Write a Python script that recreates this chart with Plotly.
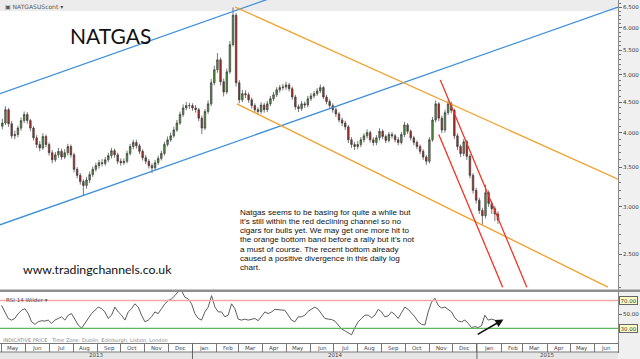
import numpy as np
import pandas as pd
import plotly.graph_objects as go

# ---------------- data ----------------
candle_start = "2013-05-02"
candle_step = "4D"
first_open = 4.10
closes = [4.15,4.37,4.14,3.95,3.97,4.07,4.19,4.29,4.19,4.07,
          3.92,3.82,3.77,3.94,3.82,3.70,3.60,3.67,3.72,3.64,
          3.70,3.79,3.67,3.47,3.39,3.31,3.26,3.33,3.40,3.47,
          3.52,3.56,3.55,3.60,3.66,3.73,3.67,3.58,3.56,3.58,
          3.69,3.79,3.85,3.80,3.72,3.63,3.58,3.52,3.49,3.56,
          3.62,3.69,3.82,3.89,3.95,4.04,4.15,4.29,4.40,4.44,
          4.44,4.40,4.37,4.23,4.07,4.34,4.47,4.85,5.10,5.30,
          4.87,4.68,5.06,5.62,6.30,4.85,4.54,4.65,4.63,4.54,
          4.44,4.37,4.34,4.45,4.37,4.47,4.56,4.63,4.72,4.76,
          4.77,4.81,4.74,4.59,4.42,4.39,4.47,4.45,4.56,4.61,
          4.65,4.70,4.76,4.59,4.51,4.44,4.37,4.30,4.20,4.15,
          4.09,3.89,3.82,3.79,3.82,3.89,3.95,4.00,3.89,3.85,
          3.92,4.02,3.94,3.88,3.97,3.95,3.89,3.85,3.97,4.12,
          4.02,3.92,3.85,3.79,3.72,3.64,3.58,3.89,4.20,4.47,
          4.23,4.04,4.32,4.47,4.36,3.95,3.79,3.69,3.86,3.65,
          3.39,3.20,3.08,2.96,2.90,3.17,3.04,2.98,2.92,2.853]
highs = [4.22,4.43,4.40,4.18,4.03,4.11,4.24,4.34,4.33,4.22,
         4.10,3.96,3.87,3.99,3.97,3.85,3.74,3.71,3.77,3.76,
         3.75,3.83,3.82,3.70,3.50,3.42,3.34,3.37,3.44,3.51,
         3.56,3.60,3.61,3.64,3.70,3.77,3.76,3.70,3.62,3.62,
         3.73,3.83,3.89,3.89,3.83,3.75,3.67,3.61,3.55,3.60,
         3.66,3.73,3.86,3.94,4.00,4.09,4.20,4.34,4.46,4.50,
         4.49,4.48,4.45,4.40,4.27,4.38,4.53,4.92,5.18,5.44,
         5.35,4.93,5.12,5.70,6.49,6.35,4.90,4.72,4.71,4.67,
         4.58,4.48,4.41,4.50,4.49,4.52,4.61,4.68,4.77,4.81,
         4.83,4.87,4.85,4.78,4.63,4.46,4.52,4.51,4.61,4.66,
         4.70,4.75,4.82,4.79,4.63,4.55,4.48,4.41,4.33,4.24,
         4.19,4.12,3.93,3.86,3.87,3.93,3.99,4.05,4.03,3.93,
         3.96,4.07,4.05,3.97,4.01,4.01,3.98,3.93,4.01,4.17,
         4.15,4.05,3.95,3.88,3.82,3.75,3.67,3.93,4.25,4.53,
         4.50,4.27,4.37,4.53,4.51,4.39,3.99,3.82,3.90,3.89,
         3.68,3.42,3.23,3.11,2.99,3.27,3.20,3.07,3.01,2.95]
lows = [4.05,4.12,4.09,3.91,3.90,3.93,4.03,4.15,4.14,4.02,
        3.88,3.77,3.72,3.74,3.78,3.66,3.55,3.57,3.63,3.60,
        3.61,3.66,3.63,3.43,3.35,3.27,3.13,3.22,3.29,3.37,
        3.44,3.48,3.51,3.52,3.57,3.62,3.63,3.54,3.52,3.53,
        3.55,3.66,3.75,3.76,3.68,3.59,3.54,3.48,3.42,3.46,
        3.53,3.59,3.66,3.79,3.86,3.92,4.01,4.12,4.25,4.36,
        4.38,4.35,4.32,4.18,3.98,4.04,4.30,4.43,4.80,5.04,
        4.80,4.60,4.64,5.02,5.58,4.78,4.48,4.50,4.57,4.49,
        4.39,4.32,4.28,4.30,4.32,4.33,4.43,4.52,4.59,4.67,
        4.71,4.72,4.69,4.54,4.37,4.33,4.35,4.40,4.41,4.52,
        4.57,4.61,4.66,4.55,4.46,4.39,4.32,4.25,4.16,4.10,
        4.04,3.84,3.77,3.74,3.75,3.78,3.85,3.91,3.85,3.80,
        3.81,3.88,3.90,3.84,3.85,3.91,3.85,3.81,3.82,3.93,
        3.98,3.88,3.81,3.75,3.68,3.60,3.53,3.55,3.86,4.16,
        4.18,3.99,4.00,4.28,4.31,3.90,3.74,3.64,3.65,3.60,
        3.35,3.16,3.04,2.92,2.80,2.87,3.00,2.92,2.84,2.81]

rsi_start = "2013-05-01"
rsi_end = "2015-01-24"
rsi_values = [63.0,53.6,44.2,41.8,44.2,51.2,55.9,58.3,51.2,39.4,
              35.7,39.4,40.9,40.4,41.8,37.1,41.8,44.2,46.5,41.8,
              48.9,51.2,41.8,34.7,30.0,37.1,44.2,51.2,55.9,60.6,
              58.3,53.6,44.2,48.9,60.6,53.6,48.9,41.8,53.6,58.3,
              65.3,60.6,48.9,39.4,41.8,46.5,53.6,51.2,58.3,65.3,
              70.0,72.4,77.1,82.8,84.2,74.8,72.4,65.3,51.2,44.2,
              41.8,53.6,60.6,77.1,60.6,53.6,53.6,46.5,48.9,65.3,
              58.3,43.2,41.8,43.2,41.8,42.7,44.2,40.9,46.5,53.6,
              51.2,53.6,57.3,56.9,57.3,55.9,48.9,41.8,39.4,46.5,
              46.5,48.9,54.5,57.3,60.6,57.3,51.2,44.2,43.2,42.7,
              40.4,34.7,29.1,26.3,23.0,20.6,31.0,39.4,44.2,48.9,
              48.9,45.1,48.9,57.3,53.6,46.5,47.9,53.6,49.8,44.2,
              52.6,60.6,57.3,52.6,46.5,39.4,35.7,34.7,53.6,67.7,
              73.3,63.0,59.2,60.6,57.3,53.6,45.1,40.4,39.4,41.8,
              37.1,31.0,32.4,31.0,33.8,48.9,41.8,43.2,41.8]
rsi_levels = [70, 30]

# trend lines (analyst drawings): dates and prices of the two end points
blue_lower = (["2013-04-29", "2015-07-01"], [2.80, 6.50])
blue_upper = (["2013-04-29", "2015-07-01"], [4.65, 10.8])
orange_upper = (["2014-02-25", "2015-07-01"], [6.50, 3.34])
orange_lower = (["2014-02-27", "2015-06-18"], [4.47, 2.20])
red_upper = (["2014-11-15", "2015-03-06"], [4.90, 2.20])
red_lower = (["2014-11-13", "2015-02-03"], [3.97, 2.20])

# divergence arrow on RSI (tail -> head)
arrow_tail = ("2014-12-31", 20.0)
arrow_head = ("2015-02-04", 42.7)

price_ticks = [2.5, 3.0, 3.5, 4.0, 4.5, 5.0, 5.5, 6.0, 6.5]
x_range = ["2013-04-29", "2015-07-01"]
last_price = 2.853

comment_lines = [
    "Natgas seems to be basing for quite a while but",
    "it\u2019s still within the red declining channel so no",
    "cigars for bulls yet. We may get one more hit to",
    "the orange bottom band before a rally but it\u2019s not",
    "a must of course. The recent bottom already",
    "caused a positive divergence in this daily log",
    "chart.",
]

# ---------------- figure ----------------
W, H = 640, 359
ML, MR, MT, MB = 0, 22, 0, 16
PW, PH = W - ML - MR, H - MT - MB


def px(xp):
    return (xp - ML) / PW


def py(yp):
    return (H - MB - yp) / PH


dates = pd.date_range(candle_start, periods=len(closes), freq=candle_step)
opens = [first_open] + closes[:-1]
rsi_dates = pd.date_range(rsi_start, rsi_end, periods=len(rsi_values))

fig = go.Figure()
fig.add_trace(go.Candlestick(
    x=dates, open=opens, high=highs, low=lows, close=closes,
    xaxis="x", yaxis="y", whiskerwidth=0,
    increasing=dict(line=dict(color="#3c3c3c", width=0.7), fillcolor="#4f9a3c"),
    decreasing=dict(line=dict(color="#3c3c3c", width=0.7), fillcolor="#b3261e"),
    showlegend=False, hoverinfo="skip"))

for (xs, ys), col in [(blue_lower, "#3f8fd8"), (blue_upper, "#3f8fd8"),
                      (orange_upper, "#f2a02a"), (orange_lower, "#f2a02a"),
                      (red_upper, "#ee3426"), (red_lower, "#ee3426")]:
    fig.add_trace(go.Scatter(x=xs, y=ys, mode="lines", xaxis="x", yaxis="y",
                             line=dict(color=col, width=1.3),
                             showlegend=False, hoverinfo="skip"))

fig.add_trace(go.Scatter(x=rsi_dates, y=rsi_values, mode="lines", xaxis="x2", yaxis="y2",
                         line=dict(color="#4a4a4a", width=0.9),
                         showlegend=False, hoverinfo="skip"))

shapes = []
# right axis background
shapes.append(dict(type="rect", xref="paper", yref="paper", x0=1, x1=px(W), y0=py(H), y1=py(0),
                   fillcolor="#f0f0f0", line=dict(width=0), layer="below"))
# header band
shapes.append(dict(type="rect", xref="paper", yref="paper", x0=0, x1=1, y0=py(11), y1=py(0),
                   fillcolor="#ececec", line=dict(width=0), layer="below"))
# separator between price and RSI panels
shapes.append(dict(type="rect", xref="paper", yref="paper", x0=0, x1=px(W), y0=py(292), y1=py(289.5),
                   fillcolor="#8f8f8f", line=dict(width=0)))
# RSI level lines
shapes.append(dict(type="line", xref="x2 domain", yref="y2", x0=0, x1=1, y0=rsi_levels[0], y1=rsi_levels[0],
                   line=dict(color="#f4a6a6", width=1.6)))
shapes.append(dict(type="line", xref="x2 domain", yref="y2", x0=0, x1=1, y0=rsi_levels[1], y1=rsi_levels[1],
                   line=dict(color="#5cb85c", width=1.2)))
# year row background and borders
shapes.append(dict(type="rect", xref="paper", yref="paper", x0=0, x1=1, y0=py(H), y1=py(352),
                   fillcolor="#e6e6e6", line=dict(width=0)))
shapes.append(dict(type="line", xref="paper", yref="paper", x0=0, x1=1, y0=py(352), y1=py(352),
                   line=dict(color="#777", width=1)))
for yr in ["2014-01-01", "2015-01-01"]:
    shapes.append(dict(type="line", xref="x2", yref="paper", x0=yr, x1=yr, y0=py(343), y1=py(H),
                       line=dict(color="#666", width=1)))

annotations = []

annotations.append(dict(text="NATGAS", x=px(110), y=py(35), xref="paper", yref="paper",
                        showarrow=False, font=dict(family="Lato, sans-serif", size=21, color="#111"),
                        xanchor="center", yanchor="middle"))
annotations.append(dict(text="www.tradingchannels.co.uk", x=px(21), y=py(269), xref="paper", yref="paper",
                        showarrow=False, font=dict(family="Lato, sans-serif", size=12.3, color="#111"),
                        xanchor="left", yanchor="middle"))
for i, line in enumerate(comment_lines):
    annotations.append(dict(text=line, x=px(238), y=py(212.3 + 9.2 * i), xref="paper", yref="paper",
                            showarrow=False, font=dict(family="Liberation Sans, Arial, sans-serif", size=8.1, color="#111"),
                            xanchor="left", yanchor="middle"))
annotations.append(dict(text="\u25a3 NATGASUScont \u25be", x=px(3), y=py(6), xref="paper", yref="paper",
                        showarrow=False, font=dict(family="DejaVu Sans, sans-serif", size=6, color="#555"),
                        xanchor="left", yanchor="middle"))
annotations.append(dict(text="RSI 14 Wilder \u25be", x=px(4), y=py(299.5), xref="paper", yref="paper",
                        showarrow=False, font=dict(family="DejaVu Sans, sans-serif", size=5.5, color="#555"),
                        xanchor="left", yanchor="middle"))
annotations.append(dict(text="INDICATIVE PRICE   Time Zone: Dublin, Edinburgh, Lisbon, London",
                        x=px(1), y=py(340.5), xref="paper", yref="paper",
                        showarrow=False, font=dict(family="DejaVu Sans, sans-serif", size=5, color="#888"),
                        xanchor="left", yanchor="middle"))

box = dict(bgcolor="#ffffc8", bordercolor="#666", borderwidth=1, borderpad=0.5,
           font=dict(family="DejaVu Sans, sans-serif", size=5.5, color="#333"))
annotations.append(dict(text=f"{last_price:.3f}", x=1, xref="paper", y=last_price, yref="y",
                        xanchor="left", xshift=1, showarrow=False, **box))
for lv in rsi_levels:
    annotations.append(dict(text=f"{lv:.2f}", x=1, xref="paper", y=lv, yref="y2",
                            xanchor="left", xshift=1, showarrow=False, **box))

annotations.append(dict(x=arrow_head[0], y=arrow_head[1], ax=arrow_tail[0], ay=arrow_tail[1],
                        xref="x2", yref="y2", axref="x2", ayref="y2", text="",
                        showarrow=True, arrowhead=2, arrowsize=1, arrowwidth=1.6, arrowcolor="#111"))

# month and year labels
months = pd.date_range("2013-05-01", "2015-06-01", freq="MS")
for m in months:
    annotations.append(dict(text=m.strftime("%b"), x=m + pd.Timedelta(days=15), xref="x2",
                            y=py(348), yref="paper", showarrow=False,
                            font=dict(family="DejaVu Sans, sans-serif", size=5.5, color="#444"),
                            xanchor="center", yanchor="middle"))
x0r, x1r = pd.Timestamp(x_range[0]), pd.Timestamp(x_range[1])
for yr in [2013, 2014, 2015]:
    a = max(pd.Timestamp(f"{yr}-01-01"), x0r)
    b = min(pd.Timestamp(f"{yr + 1}-01-01"), x1r)
    annotations.append(dict(text=str(yr), x=a + (b - a) / 2, xref="x2",
                            y=py(355.5), yref="paper", showarrow=False,
                            font=dict(family="DejaVu Sans, sans-serif", size=5.5, color="#444"),
                            xanchor="center", yanchor="middle"))

minor_vals = [round(v, 1) for v in np.arange(2.2, 6.71, 0.1) if round(v, 1) not in price_ticks]

axis_font = dict(family="DejaVu Sans, sans-serif", size=5.5, color="#333")
fig.update_layout(
    width=W, height=H, autosize=False,
    margin=dict(l=ML, r=MR, t=MT, b=MB, pad=0),
    paper_bgcolor="white", plot_bgcolor="white",
    showlegend=False,
    xaxis=dict(domain=[0, 1], anchor="y", matches="x2", showticklabels=False, showgrid=False,
               zeroline=False, rangeslider=dict(visible=False), type="date"),
    xaxis2=dict(domain=[0, 1], anchor="y2", range=x_range, type="date", showgrid=False, zeroline=False,
                showticklabels=False, ticks="outside", ticklen=9, tickcolor="#777", tickwidth=1,
                dtick="M1", tick0="2013-05-01", showline=True, linecolor="#777", linewidth=1),
    yaxis=dict(domain=[py(289.5), 1], anchor="x", side="right", type="log",
               range=[np.log10(2.18), np.log10(6.68)],
               tickvals=price_ticks, ticktext=[f"{v:.3f}" for v in price_ticks],
               ticks="outside", ticklen=3, tickcolor="#666", tickfont=axis_font,
               showgrid=False, zeroline=False, showline=True, linecolor="#888", linewidth=1,
               minor=dict(tickvals=minor_vals, ticks="outside", ticklen=2, tickcolor="#777")),
    yaxis2=dict(domain=[0, py(292)], anchor="x2", side="right", range=[8.8, 82.3],
                tickvals=[50], ticktext=["50.00"], ticks="outside", ticklen=3, tickcolor="#666",
                tickfont=axis_font, showgrid=False, zeroline=False, showline=True,
                linecolor="#888", linewidth=1),
    shapes=shapes, annotations=annotations,
)

fig.write_html("out.html", config={"displayModeBar": False},
               post_script="document.body.style.margin='0px';document.body.style.overflow='hidden';")
